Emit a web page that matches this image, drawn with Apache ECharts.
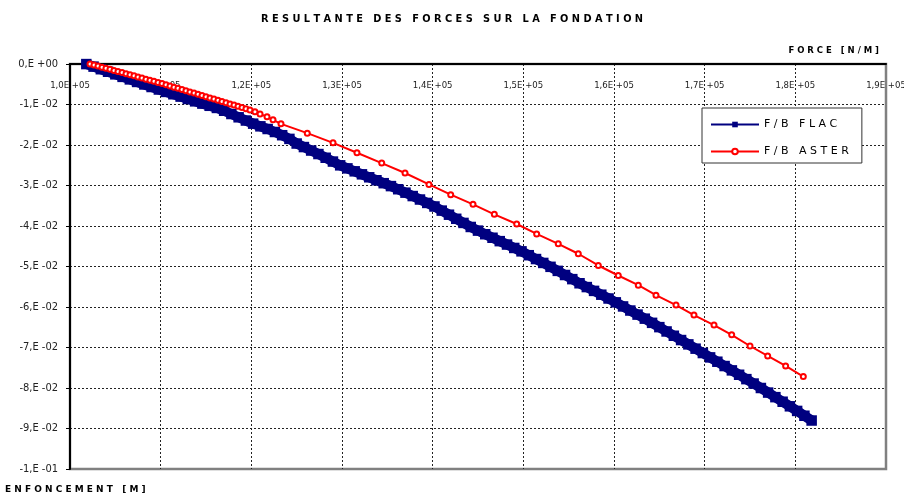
<!DOCTYPE html>
<html>
<head>
<meta charset="utf-8">
<script src="https://cdn.jsdelivr.net/npm/echarts@6/dist/echarts.min.js"></script>
<style>
  html, body { margin: 0; padding: 0; background: #fff; }
  #chart { width: 904px; height: 496px; }
</style>
</head>
<body>
<div id="chart"></div>
<script>
// tick labels
const xTickLabels = ['1,0E +05', '1,1E +05', '1,2E +05', '1,3E +05', '1,4E +05', '1,5E +05', '1,6E +05', '1,7E +05', '1,8E +05', '1,9E +05']
const yTickLabels = ['0,E +00', '-1,E -02', '-2,E -02', '-3,E -02', '-4,E -02', '-5,E -02', '-6,E -02', '-7,E -02', '-8,E -02', '-9,E -02', '-1,E -01']

// F/B FLAC  (force N/m, enfoncement m)
const flacForce = [
  101800, 102600, 103400, 104200, 105000, 105800, 106600, 107400, 108200, 109000,
  109800, 110600, 111400, 112200, 113000, 113800, 114600, 115400, 116200, 117000,
  117800, 118600, 119400, 120200, 121000, 121800, 122600, 123400, 124200, 125000,
  125800, 126600, 127400, 128200, 129000, 129800, 130600, 131400, 132200, 133000,
  133800, 134600, 135400, 136200, 137000, 137800, 138600, 139400, 140200, 141000,
  141800, 142600, 143400, 144200, 145000, 145800, 146600, 147400, 148200, 149000,
  149800, 150600, 151400, 152200, 153000, 153800, 154600, 155400, 156200, 157000,
  157800, 158600, 159400, 160200, 161000, 161800, 162600, 163400, 164200, 165000,
  165800, 166600, 167400, 168200, 169000, 169800, 170600, 171400, 172200, 173000,
  173800, 174600, 175400, 176200, 177000, 177800, 178600, 179400, 180200, 181000,
  181800
]
const flacEnfoncement = [
  -0.00002, -0.00065, -0.00129, -0.00192, -0.00255, -0.00318, -0.00380, -0.00443, -0.00505, -0.00568,
  -0.00630, -0.00689, -0.00747, -0.00805, -0.00864, -0.00922, -0.00978, -0.01032, -0.01085, -0.01154,
  -0.01235, -0.01316, -0.01396, -0.01473, -0.01539, -0.01605, -0.01679, -0.01758, -0.01849, -0.01964,
  -0.02051, -0.02137, -0.02223, -0.02315, -0.02409, -0.02502, -0.02577, -0.02650, -0.02724, -0.02797,
  -0.02870, -0.02943, -0.03015, -0.03092, -0.03177, -0.03261, -0.03346, -0.03430, -0.03518, -0.03620,
  -0.03721, -0.03822, -0.03924, -0.04024, -0.04114, -0.04203, -0.04290, -0.04374, -0.04458, -0.04542,
  -0.04626, -0.04721, -0.04816, -0.04912, -0.05008, -0.05108, -0.05210, -0.05312, -0.05414, -0.05508,
  -0.05602, -0.05696, -0.05790, -0.05885, -0.05986, -0.06087, -0.06188, -0.06288, -0.06391, -0.06497,
  -0.06604, -0.06710, -0.06816, -0.06923, -0.07029, -0.07137, -0.07244, -0.07351, -0.07458, -0.07565,
  -0.07673, -0.07781, -0.07890, -0.08000, -0.08113, -0.08226, -0.08339, -0.08452, -0.08566, -0.08685,
  -0.08803
]

// F/B ASTER
const asterForce = [
  102210, 102650, 103090, 103530, 103970, 104410, 104850, 105290, 105740, 106180,
  106620, 107060, 107500, 107940, 108380, 108820, 109260, 109710, 110150, 110590,
  111030, 111470, 111910, 112350, 112790, 113230, 113680, 114120, 114560, 115000,
  115440, 115880, 116320, 116760, 117210, 117650, 118090, 118530, 118970, 119410,
  119850, 120400, 120960, 121730, 122390, 123270,
  126170, 129010, 131650, 134380, 136950, 139590, 141990, 144450, 146800, 149270,
  151470, 153850, 156060, 158270, 160470, 162680, 164630, 166840, 168820, 171030,
  172980, 175000, 176950, 178930, 180880
]
const asterEnfoncement = [
  0, -0.00025, -0.00049, -0.00079, -0.00103, -0.00130, -0.00158, -0.00185, -0.00212, -0.00239,
  -0.00266, -0.00293, -0.00320, -0.00347, -0.00374, -0.00401, -0.00429, -0.00456, -0.00483, -0.00512,
  -0.00542, -0.00571, -0.00601, -0.00630, -0.00660, -0.00690, -0.00719, -0.00749, -0.00778, -0.00808,
  -0.00837, -0.00867, -0.00897, -0.00926, -0.00956, -0.00985, -0.01015, -0.01044, -0.01074, -0.01103,
  -0.01133, -0.01182, -0.01232, -0.01305, -0.01379, -0.01478,
  -0.01707, -0.01946, -0.02192, -0.02446, -0.02692, -0.02973, -0.03227, -0.03466, -0.03712, -0.03951,
  -0.04195, -0.04441, -0.04685, -0.04975, -0.05222, -0.05461, -0.05707, -0.05953, -0.06200, -0.06446,
  -0.06687, -0.06963, -0.07209, -0.07456, -0.07717
]

const spaced = s => s.split('').join(' ')
const tickFont = "'Liberation Sans Narrow', 'DejaVu Sans Condensed', sans-serif"
const boldFont = "'DejaVu Sans', sans-serif"

const chart = echarts.init(document.getElementById('chart'))
chart.setOption({
  animation: false,
  backgroundColor: '#fff',
  title: [
    {
      text: spaced('RESULTANTE DES FORCES SUR LA FONDATION'),
      left: 'center',
      top: 9,
      textStyle: { fontFamily: boldFont, fontSize: 9.8, fontWeight: 'bold', color: '#000' }
    },
    {
      text: spaced('FORCE [N/M]'),
      right: 20,
      top: 41,
      textStyle: { fontFamily: boldFont, fontSize: 8.5, fontWeight: 'bold', color: '#000' }
    },
    {
      text: spaced('ENFONCEMENT [M]'),
      left: 0,
      top: 480,
      textStyle: { fontFamily: boldFont, fontSize: 9, fontWeight: 'bold', color: '#000' }
    }
  ],
  legend: {
    orient: 'vertical',
    left: 702,
    top: 108,
    padding: [11, 13, 6, 8],
    itemWidth: 48,
    itemHeight: 7,
    itemGap: 16,
    backgroundColor: '#fff',
    borderColor: '#333',
    borderWidth: 1,
    lineStyle: { width: 2 },
    formatter: name => spaced(name),
    textStyle: { fontFamily: boldFont, fontSize: 11, color: '#000' }
  },
  grid: {
    left: 70,
    right: 18,
    top: 64,
    bottom: 27,
    outerBoundsMode: 'none',
    show: true,
    borderColor: '#808080',
    borderWidth: 2.5,
    backgroundColor: '#fff'
  },
  xAxis: {
    type: 'value',
    position: 'top',
    min: 100000,
    max: 190000,
    interval: 10000,
    axisLine: { onZero: false, lineStyle: { color: '#000', width: 2 } },
    axisTick: { show: false },
    axisLabel: {
      inside: true,
      margin: 17,
      fontFamily: tickFont,
      fontSize: 9.5,
      color: '#222',
      formatter: v => xTickLabels[Math.round((v - 100000) / 10000)]
    },
    splitLine: { show: true, showMaxLine: false, lineStyle: { color: '#222', type: [2, 2], width: 1 } }
  },
  yAxis: {
    type: 'value',
    min: -0.1,
    max: 0,
    interval: 0.01,
    axisLine: { onZero: false, lineStyle: { color: '#000', width: 2 } },
    axisTick: { show: true, length: 4, lineStyle: { color: '#000' } },
    axisLabel: {
      margin: 12,
      fontFamily: tickFont,
      fontSize: 11,
      color: '#222',
      formatter: v => yTickLabels[Math.round(-v / 0.01)]
    },
    splitLine: { show: true, showMinLine: false, showMaxLine: false, lineStyle: { color: '#222', type: [2, 2], width: 1 } }
  },
  series: [
    {
      name: 'F/B FLAC',
      type: 'line',
      data: flacForce.map((f, i) => [f, flacEnfoncement[i]]),
      symbol: 'rect',
      symbolSize: 10.5,
      showAllSymbol: true,
      lineStyle: { color: '#000080', width: 10 },
      itemStyle: { color: '#000080' }
    },
    {
      name: 'F/B ASTER',
      type: 'line',
      data: asterForce.map((f, i) => [f, asterEnfoncement[i]]),
      symbol: 'emptyCircle',
      symbolSize: 5,
      showAllSymbol: true,
      lineStyle: { color: '#ff0000', width: 2 },
      itemStyle: { color: '#ff0000', borderColor: '#ff0000', borderWidth: 2.5 }
    }
  ]
})
</script>
</body>
</html>
